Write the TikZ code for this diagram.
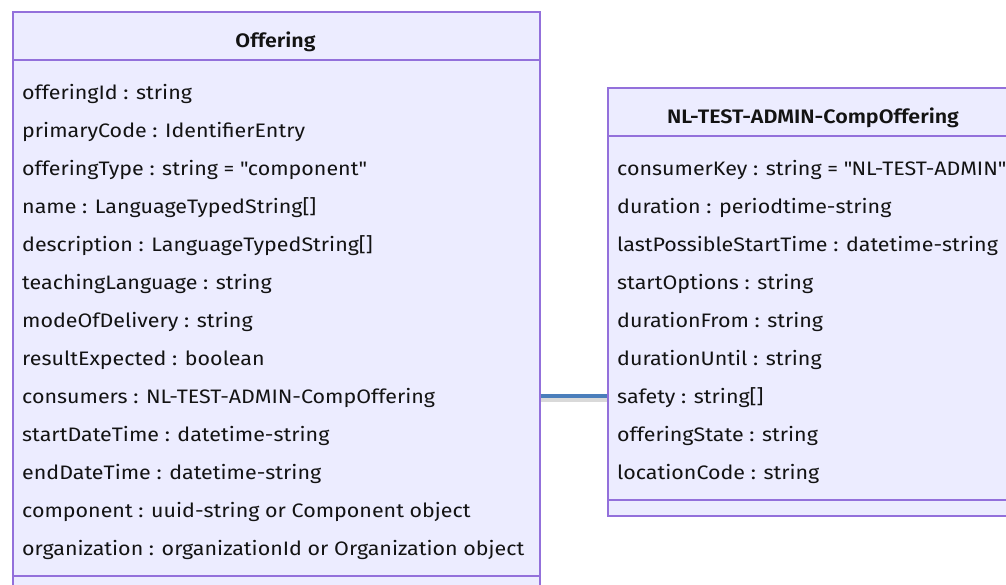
\documentclass[tikz,border=0pt]{standalone}
\usepackage{fontspec}
\setmainfont{Fira Sans}[FakeStretch=1.1,BoldFont={Fira Sans SemiBold}]
\usetikzlibrary{positioning}
\definecolor{classfill}{HTML}{ECECFF}
\definecolor{classline}{HTML}{9370DB}
\definecolor{linkblue}{HTML}{4A7EBB}
\definecolor{textdark}{HTML}{131313}

\begin{document}
\begin{tikzpicture}[x=1pt,y=-1pt,
    classbox/.style={draw=classline,fill=classfill,line width=1.6pt,inner sep=0pt},
    sepline/.style={draw=classline,line width=1.6pt},
    header/.style={font=\fontsize{19.5}{22}\selectfont\bfseries,text=textdark,anchor=base,inner sep=0pt},
    attr/.style={font=\fontsize{19.5}{22}\selectfont,text=textdark,anchor=base west,
      inner xsep=10pt,inner ysep=0pt,text height=14pt,text depth=0pt},
    link/.style={draw=linkblue,line width=3.5pt},
    linkshadow/.style={draw=black,opacity=0.15,line width=4pt,transform canvas={yshift=-3.5pt}}]

      \path[use as bounding box,clip] (0,0) rectangle (1006,584);

      \node[classbox,anchor=north west,minimum width=527pt,minimum height=581pt] (offering) at (12,11) {};
      \draw[sepline] (12,60) -- (539,60);
      \draw[sepline] (12,576) -- (539,576);
      \node[header] (offeringTitle) at (275.5,47) {Offering};

      \node[attr] (offeringId) at (12,99) {offeringId : string};
      \node[attr] (primaryCode) at (12,137) {primaryCode : IdentifierEntry};
      \node[attr] (offeringType) at (12,175) {offeringType : string = \textquotedbl component\textquotedbl};
      \node[attr] (name) at (12,213) {name : LanguageTypedString[]};
      \node[attr] (description) at (12,251) {description : LanguageTypedString[]};
      \node[attr] (teachingLanguage) at (12,289) {teachingLanguage : string};
      \node[attr] (modeOfDelivery) at (12,327) {modeOfDelivery : string};
      \node[attr] (resultExpected) at (12,365) {resultExpected : boolean};
      \node[attr] (consumers) at (12,403) {consumers : NL-TEST-ADMIN-CompOffering};
      \node[attr] (startDateTime) at (12,441) {startDateTime : datetime-string};
      \node[attr] (endDateTime) at (12,479) {endDateTime : datetime-string};
      \node[attr] (component) at (12,517) {component : uuid-string or Component object};
      \node[attr] (organization) at (12,555) {organization : organizationId or Organization object};

      \node[classbox,anchor=north west,minimum width=412pt,minimum height=428pt] (comp) at (607,87) {};
      \draw[sepline] (607,136) -- (1019,136);
      \draw[sepline] (607,500) -- (1019,500);
      \node[header] (compTitle) at (813,123) {NL-TEST-ADMIN-CompOffering};

      \node[attr] (consumerKey) at (607,175) {consumerKey : string = \textquotedbl NL-TEST-ADMIN\textquotedbl};
      \node[attr] (duration) at (607,213) {duration : periodtime-string};
      \node[attr] (lastPossibleStartTime) at (607,251) {lastPossibleStartTime : datetime-string};
      \node[attr] (startOptions) at (607,289) {startOptions : string};
      \node[attr] (durationFrom) at (607,327) {durationFrom : string};
      \node[attr] (durationUntil) at (607,365) {durationUntil : string};
      \node[attr] (safety) at (607,403) {safety : string[]};
      \node[attr] (offeringState) at (607,441) {offeringState : string};
      \node[attr] (locationCode) at (607,479) {locationCode : string};

      \draw[linkshadow] (consumers -| offering.east) -- (safety -| comp.west);
      \draw[link] (consumers -| offering.east) -- (safety -| comp.west);
    \end{tikzpicture}
\end{document}
